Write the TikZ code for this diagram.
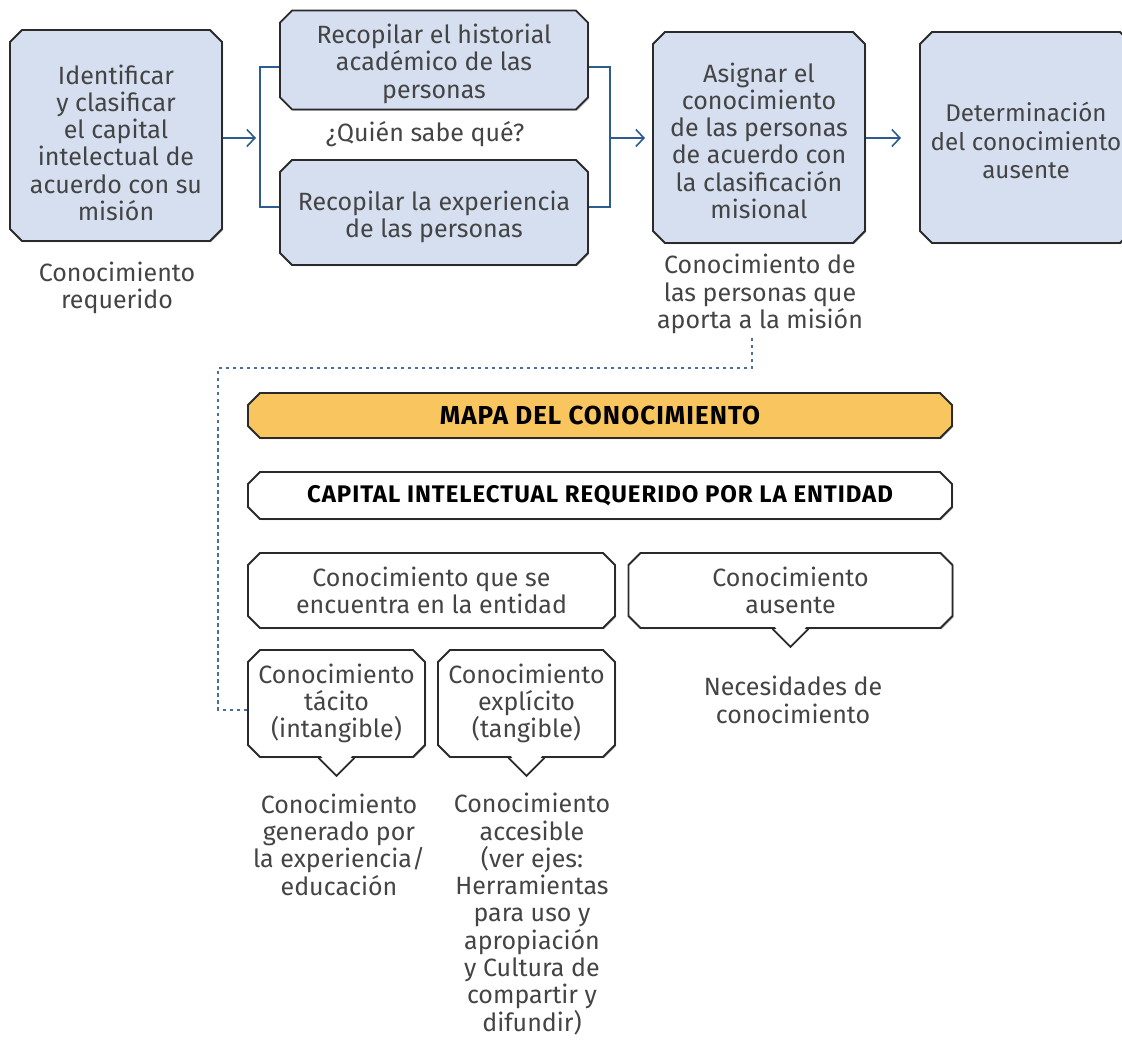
\documentclass[tikz,border=0pt]{standalone}
\usepackage{fontspec}
\setmainfont{Fira Sans}
\usetikzlibrary{shapes.misc,arrows.meta,shadows}
\definecolor{boxfill}{HTML}{D5DFF0}
\definecolor{boxline}{HTML}{2A2A2A}
\definecolor{arrowblue}{HTML}{2F5C8F}
\definecolor{dotblue}{HTML}{4A6EA0}
\definecolor{mapaorange}{HTML}{F8C55E}
\definecolor{txt}{HTML}{444444}
\newcommand{\topstrut}[1]{\rule{0pt}{#1}}
\tikzset{
  bodyfont/.style={font=\fontsize{25}{27.3}\selectfont},
  box/.style={chamfered rectangle, chamfered rectangle xsep=6pt, chamfered rectangle ysep=6pt,
    draw=boxline, line width=1.8pt, fill=boxfill, align=center, text=txt, bodyfont, inner sep=0pt,
    drop shadow={shadow xshift=1.2pt, shadow yshift=-1.2pt, fill=black!45, opacity=0.6}},
  wbox/.style={box, fill=white},
  header/.style={wbox, text=black, font=\fontsize{24}{28}\bfseries\selectfont\addfontfeature{LetterSpace=4}},
  bigheader/.style={header, font=\fontsize{26}{28}\bfseries\selectfont\addfontfeature{LetterSpace=4}},
  lab/.style={align=center, text=txt, bodyfont, inner sep=0pt},
  flow/.style={draw=arrowblue, line width=1.6pt},
  flowarrow/.style={flow, -{Straight Barb[length=8pt,width=17pt,line width=1.6pt]}},
  dots/.style={draw=dotblue, line width=2pt, dash pattern=on 3.5pt off 3.5pt},
  pointer/.style={draw=boxline, line width=1.8pt}
}
\begin{document}
\begin{tikzpicture}[x=1pt,y=-1pt]
\useasboundingbox (0,0) rectangle (1122,1040);
\clip (0,0) rectangle (1122,1040);

% top row
\node[box, minimum width=212pt, minimum height=211pt] (A) at (116,135.5)
  {\topstrut{34pt}Identificar\\y clasificar\\el capital\\intelectual de\\acuerdo con su\\misión};
\node[box, minimum width=308pt, minimum height=96pt] (B1) at (434,60)
  {\topstrut{27pt}Recopilar el historial\\académico de las\\personas};
\node[box, minimum width=308pt, minimum height=105pt] (B2) at (434,212.5)
  {\topstrut{29pt}Recopilar la experiencia\\de las personas};
\node[box, minimum width=212pt, minimum height=211pt] (C) at (759,137.5)
  {\topstrut{26pt}Asignar el\\conocimiento\\de las personas\\de acuerdo con\\la clasificación\\misional};
\node[box, minimum width=212pt, minimum height=211pt, font=\fontsize{24.2}{28.5}\selectfont] (D) at (1026,137.5)
  {\topstrut{26pt}Determinación\\del conocimiento\\ausente};

\node[lab] (labA) at (117,288) {Conocimiento\\requerido};
\node[lab] (quien) at (425,134) {¿Quién sabe qué?};
\node[lab] (labC) at (760,294) {Conocimiento de\\las personas que\\aporta a la misión};

% connectors top
\coordinate (aEnd) at (256,138);
\coordinate (bl1) at (260,67);
\coordinate (bl2) at (260,207);
\coordinate (br1) at (610,67);
\coordinate (br2) at (610,207);
\coordinate (brm) at (610,138);
\coordinate (cIn) at (645,138);
\coordinate (dIn) at (901,138);
\draw[flowarrow] (A.east |- aEnd) -- (aEnd);
\draw[flow] (B1.west |- bl1) -- (bl1) -- (bl2) -- (B2.west |- bl2);
\draw[flow] (B1.east |- br1) -- (br1) -- (br2) -- (B2.east |- br2);
\draw[flowarrow] (brm) -- (cIn);
\draw[flowarrow] (C.east |- dIn) -- (dIn);

% map section
\node[bigheader, fill=mapaorange, minimum width=704pt, minimum height=45pt] (mapa) at (600,415.5)
  {MAPA DEL CONOCIMIENTO};
\node[header, minimum width=704pt, minimum height=47pt] (cap) at (600,495.5)
  {CAPITAL INTELECTUAL REQUERIDO POR LA ENTIDAD};
\node[wbox, minimum width=367pt, minimum height=75pt] (E1) at (431.5,590.5)
  {Conocimiento que se\\encuentra en la entidad};
\node[wbox, minimum width=324pt, minimum height=75pt] (E2) at (790.5,590.5)
  {Conocimiento\\ausente};
\node[wbox, minimum width=177pt, minimum height=107pt] (T) at (336.5,703.5)
  {Conocimiento\\tácito\\(intangible)};
\node[wbox, minimum width=177pt, minimum height=107pt] (X) at (526.5,703.5)
  {Conocimiento\\explícito\\(tangible)};

% pointers
\foreach \n in {E2,T,X}{
  \fill[white] (\n.south) ++(-16,-2.5) -- ++(16,20.5) -- ++(16,-20.5) -- cycle;
  \draw[pointer] (\n.south) ++(-18,0) -- ++(18,18) -- ++(18,-18);
}

\node[lab] (nec) at (793,700) {Necesidades de\\conocimiento};
\node[lab] (labT) at (339,844.5) {Conocimiento\\generado por\\la experiencia/\\educación};
\node[lab] (labX) at (532,914) {Conocimiento\\accesible\\(ver ejes:\\Herramientas\\para uso y\\apropiación\\y Cultura de\\compartir y\\difundir)};

% dotted connector
\coordinate (d0) at (752,338);
\coordinate (d1) at (218,368);
\draw[dots] (d0) |- (d1) |- ([yshift=-6pt]T.west);
\end{tikzpicture}
\end{document}
